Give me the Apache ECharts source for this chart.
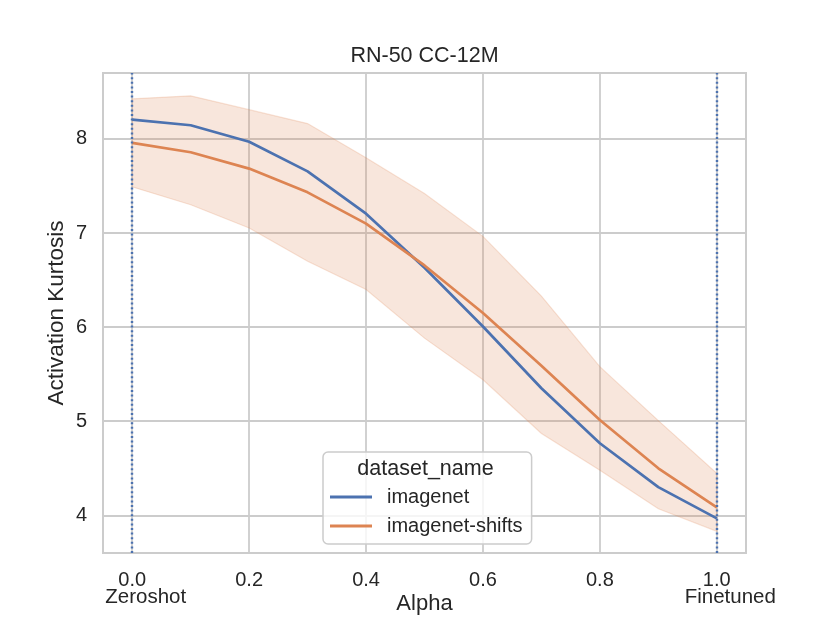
<!DOCTYPE html>
<html>
<head>
<meta charset="utf-8">
<script src="https://cdn.jsdelivr.net/npm/echarts@6/dist/echarts.min.js"></script>
<style>
html, body { margin: 0; padding: 0; background: #fff; }
#chart { width: 830px; height: 623px; }
</style>
</head>
<body>
<div id="chart"></div>
<script>
var alphas = [0.0, 0.1, 0.2, 0.3, 0.4, 0.5, 0.6, 0.7, 0.8, 0.9, 1.0];
var imagenet = [8.205, 8.145, 7.97, 7.655, 7.205, 6.63, 6.007, 5.35, 4.766, 4.30, 3.968];
var imagenetShifts = [7.957, 7.858, 7.684, 7.432, 7.10, 6.655, 6.15, 5.59, 5.014, 4.50, 4.085];
var bandUpper = [8.426, 8.457, 8.31, 8.163, 7.80, 7.42, 6.964, 6.33, 5.58, 5.007, 4.447];
var bandLower = [7.49, 7.30, 7.053, 6.70, 6.40, 5.883, 5.44, 4.87, 4.48, 4.07, 3.83];

var FONT = '"Liberation Sans", Arial, sans-serif';
var TXT = '#262626';
var BLUE = '#4c72b0';
var ORANGE = '#dd8452';

function pairs(ys) {
	var out = [];
	for (var i = 0; i < alphas.length; i++) {
		out.push([alphas[i], ys[i]]);
	}
	return out;
}

var bandData = [];
for (var i = 0; i < alphas.length; i++) {
	bandData.push([alphas[i], bandLower[i], bandUpper[i]]);
}

var myChart = echarts.init(document.getElementById('chart'));

var option = {
	backgroundColor: '#ffffff',
	animation: false,
	textStyle: { fontFamily: FONT, color: TXT },
	title: {
		text: 'RN-50 CC-12M',
		left: 424.5,
		textAlign: 'center',
		top: 45,
		padding: 0,
		textStyle: { fontFamily: FONT, fontSize: 21.5, fontWeight: 'normal', color: TXT }
	},
	grid: {
		left: 103,
		right: 84,
		top: 73,
		bottom: 70,
		show: true,
		borderColor: '#cccccc',
		borderWidth: 2,
		backgroundColor: 'transparent'
	},
	legend: {
		data: ['imagenet', 'imagenet-shifts'],
		orient: 'vertical',
		left: 323,
		top: 452,
		padding: [34, 9, 7, 7],
		itemGap: 7,
		itemWidth: 42,
		itemHeight: 3,
		icon: 'rect',
		backgroundColor: 'rgba(255,255,255,0.8)',
		borderColor: '#cccccc',
		borderWidth: 1.5,
		borderRadius: 5,
		textStyle: { fontFamily: FONT, fontSize: 20, color: TXT, lineHeight: 22, padding: [0, 0, 0, 10] }
	},
	graphic: [{
		type: 'text',
		z: 100,
		x: 425.5,
		y: 469,
		style: {
			text: 'dataset_name',
			textAlign: 'center',
			textVerticalAlign: 'middle',
			font: '21.5px ' + FONT,
			fill: TXT
		}
	}],
	xAxis: {
		type: 'value',
		min: -0.05,
		max: 1.05,
		splitNumber: 5,
		name: 'Alpha',
		nameLocation: 'middle',
		nameGap: 40,
		nameMoveOverlap: false,
		nameTextStyle: { fontFamily: FONT, fontSize: 22, color: TXT },
		axisLine: { show: false },
		axisTick: { show: false },
		splitLine: { show: true, showMinLine: false, showMaxLine: false, lineStyle: { color: '#cccccc', width: 1.8 } },
		axisLabel: {
			showMinLabel: false,
			showMaxLabel: false,
			margin: 19,
			fontFamily: FONT,
			fontSize: 20,
			color: TXT,
			lineHeight: 16,
			formatter: function (v) {
				if (Math.abs(v) < 1e-9) return '0.0\n{s|Zeroshot}';
				if (Math.abs(v - 1) < 1e-9) return '1.0\n{s|Finetuned}';
				return v.toFixed(1);
			},
			rich: {
				s: { fontFamily: FONT, fontSize: 20.5, color: TXT, lineHeight: 18, padding: [0, 0, 0, 27] }
			}
		}
	},
	yAxis: {
		type: 'value',
		min: 3.6,
		max: 8.7,
		splitNumber: 5,
		name: 'Activation Kurtosis',
		nameLocation: 'middle',
		nameGap: 35,
		nameMoveOverlap: false,
		nameTextStyle: { fontFamily: FONT, fontSize: 22.5, color: TXT },
		axisLine: { show: false },
		axisTick: { show: false },
		splitLine: { show: true, showMinLine: false, showMaxLine: false, lineStyle: { color: '#cccccc', width: 1.8 } },
		axisLabel: {
			showMinLabel: false,
			showMaxLabel: false,
			margin: 16,
			fontFamily: FONT,
			fontSize: 20,
			color: TXT
		}
	},
	series: [
		{
			name: 'band',
			type: 'custom',
			clip: true,
			z: 1,
			silent: true,
			encode: { x: 0, y: [1, 2] },
			data: bandData,
			renderItem: function (params, api) {
				if (params.dataIndex !== 0) return null;
				var pts = [];
				for (var j = 0; j < alphas.length; j++) {
					pts.push(api.coord([alphas[j], bandUpper[j]]));
				}
				for (var k = alphas.length - 1; k >= 0; k--) {
					pts.push(api.coord([alphas[k], bandLower[k]]));
				}
				return {
					type: 'polygon',
					shape: { points: pts },
					style: {
						fill: 'rgba(221,132,82,0.2)',
						stroke: 'rgba(221,132,82,0.22)',
						lineWidth: 1.2
					}
				};
			}
		},
		{
			name: 'imagenet',
			type: 'line',
			z: 3,
			symbol: 'none',
			data: pairs(imagenet),
			itemStyle: { color: BLUE },
			lineStyle: { color: BLUE, width: 2.7 },
			markLine: {
				silent: true,
				symbol: 'none',
				label: { show: false },
				lineStyle: { color: BLUE, width: 2.4, type: [2, 2.6], opacity: 1 },
				data: [{ xAxis: 0 }, { xAxis: 1 }]
			}
		},
		{
			name: 'imagenet-shifts',
			type: 'line',
			z: 3,
			symbol: 'none',
			data: pairs(imagenetShifts),
			itemStyle: { color: ORANGE },
			lineStyle: { color: ORANGE, width: 2.7 }
		}
	]
};

myChart.setOption(option);
</script>
</body>
</html>
